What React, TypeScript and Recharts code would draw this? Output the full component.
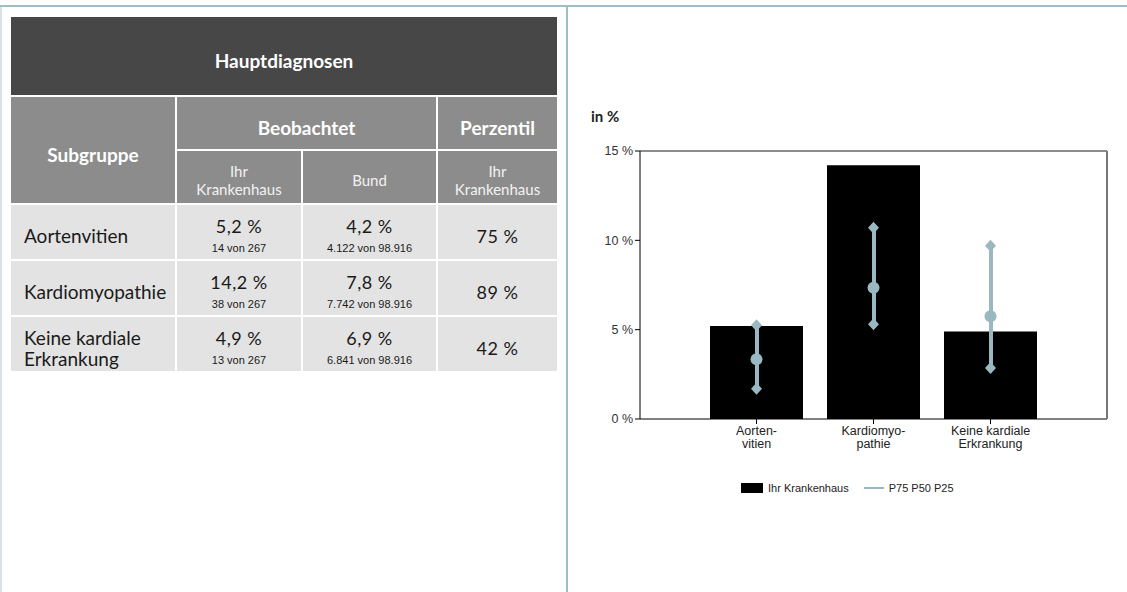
import {
  Bar,
  ComposedChart,
  Line,
  XAxis,
  YAxis,
} from 'recharts'

const categories = ['Aortenvitien', 'Kardiomyopathie', 'Keine kardiale Erkrankung']
const tickLines = [['Aorten-', 'vitien'], ['Kardiomyo-', 'pathie'], ['Keine kardiale', 'Erkrankung']]
const rowLabels = [['Aortenvitien'], ['Kardiomyopathie'], ['Keine kardiale', 'Erkrankung']]
const hospital = [5.2, 14.2, 4.9]
const hospitalCounts = ['14 von 267', '38 von 267', '13 von 267']
const bund = [4.2, 7.8, 6.9]
const bundCounts = ['4.122 von 98.916', '7.742 von 98.916', '6.841 von 98.916']
const perzentil = [75, 89, 42]
const p25 = [1.7, 5.3, 2.85]
const p50 = [3.35, 7.35, 5.75]
const p75 = [5.25, 10.7, 9.7]
const yTicks = [0, 5, 10, 15]

const PCT = '#9ab8c1'
const SEP = '#9dbdc8'
const TFONT = 'Lato, "Noto Sans", sans-serif'
const CFONT = '"Liberation Sans", Arial, sans-serif'

const chartData = categories.map((name, i) => ({
  name,
  hospital: hospital[i],
  p25: p25[i],
  p50: p50[i],
  p75: p75[i],
  range: [p25[i], p75[i]],
}))

const fmt = (v: number) => v.toFixed(1).replace('.', ',') + ' %'

function Diamond(props: any) {
  const { cx, cy, index } = props
  if (cx == null || cy == null) return null
  return (
    <path
      key={'d' + index + cy}
      d={`M${cx},${cy - 6}L${cx + 5.5},${cy}L${cx},${cy + 6}L${cx - 5.5},${cy}Z`}
      fill={PCT}
    />
  )
}

function Dot(props: any) {
  const { cx, cy, index } = props
  if (cx == null || cy == null) return null
  return <circle key={'c' + index} cx={cx} cy={cy} r={6} fill={PCT} />
}

function CatTick(props: any) {
  const { x, y, index } = props
  const lines = tickLines[index] || []
  return (
    <text x={x} y={y} textAnchor="middle" fontSize={12.5} fill="#222" fontFamily={CFONT}>
      {lines.map((l, i) => (
        <tspan key={i} x={x} dy={i === 0 ? '0.75em' : 13}>
          {l}
        </tspan>
      ))}
    </text>
  )
}

const cell = (bg: string, extra: React.CSSProperties = {}): React.CSSProperties => ({
  background: bg,
  display: 'flex',
  flexDirection: 'column',
  alignItems: 'center',
  justifyContent: 'center',
  textAlign: 'center',
  boxSizing: 'border-box',
  ...extra,
})

function Table() {
  const head = { color: '#fff', fontWeight: 700, fontSize: 19, paddingTop: 8 }
  const sub = { color: '#f2f2f2', fontWeight: 400, fontSize: 15, lineHeight: '18px', paddingTop: 6 }
  const body = { color: '#1a1a1a', paddingTop: 7 }
  return (
    <div
      style={{
        position: 'absolute',
        left: 11,
        top: 17,
        display: 'grid',
        gridTemplateColumns: '164px 124px 133px 119px',
        gridTemplateRows: '78px 52px 52px 54px 54px 54px',
        gap: 2,
        fontFamily: TFONT,
      }}
    >
      <div style={{ ...cell('#474747'), ...head, gridColumn: '1 / 5' }}>Hauptdiagnosen</div>
      <div style={{ ...cell('#8c8c8c'), ...head, gridRow: '2 / 4' }}>Subgruppe</div>
      <div style={{ ...cell('#8c8c8c'), ...head, gridColumn: '2 / 4' }}>Beobachtet</div>
      <div style={{ ...cell('#8c8c8c'), ...head }}>Perzentil</div>
      <div style={{ ...cell('#8c8c8c'), ...sub }}>
        <span>Ihr</span>
        <span>Krankenhaus</span>
      </div>
      <div style={{ ...cell('#8c8c8c'), ...sub }}>Bund</div>
      <div style={{ ...cell('#8c8c8c'), ...sub }}>
        <span>Ihr</span>
        <span>Krankenhaus</span>
      </div>
      {categories.map((c, i) => [
        <div
          key={c + 'a'}
          style={{
            ...cell('#e3e3e3', { alignItems: 'flex-start', textAlign: 'left', paddingLeft: 13 }),
            ...body,
            fontSize: 19,
            lineHeight: '21px',
          }}
        >
          {rowLabels[i].map((l) => (
            <span key={l}>{l}</span>
          ))}
        </div>,
        <div key={c + 'b'} style={{ ...cell('#e3e3e3'), ...body, paddingTop: 5 }}>
          <span style={{ fontSize: 18, lineHeight: '26px', letterSpacing: 0.5 }}>{fmt(hospital[i])}</span>
          <span style={{ fontSize: 11, fontFamily: CFONT, lineHeight: '18px' }}>{hospitalCounts[i]}</span>
        </div>,
        <div key={c + 'c'} style={{ ...cell('#e3e3e3'), ...body, paddingTop: 5 }}>
          <span style={{ fontSize: 18, lineHeight: '26px', letterSpacing: 0.5 }}>{fmt(bund[i])}</span>
          <span style={{ fontSize: 11, fontFamily: CFONT, lineHeight: '18px' }}>{bundCounts[i]}</span>
        </div>,
        <div key={c + 'd'} style={{ ...cell('#e3e3e3'), ...body, fontSize: 18, letterSpacing: 0.5 }}>
          {perzentil[i]} %
        </div>,
      ])}
    </div>
  )
}

export default function App() {
  return (
    <div
      style={{
        position: 'absolute',
        left: 0,
        top: 0,
        width: 1127,
        height: 592,
        background: '#fff',
        overflow: 'hidden',
      }}
    >
      <div style={{ position: 'absolute', left: 0, top: 5, width: 1127, height: 2, background: SEP }} />
      <div style={{ position: 'absolute', left: 0, top: 7, width: 2, height: 585, background: '#d3e3e8' }} />
      <div style={{ position: 'absolute', left: 566, top: 7, width: 2, height: 585, background: SEP }} />

      <Table />

      <div
        style={{
          position: 'absolute',
          left: 591,
          top: 107,
          fontFamily: TFONT,
          fontWeight: 700,
          fontSize: 15,
          color: '#222',
        }}
      >
        in %
      </div>

      <div style={{ position: 'absolute', left: 570, top: 100 }}>
        <ComposedChart
          width={557}
          height={420}
          data={chartData}
          margin={{ top: 50, right: 19, bottom: 71, left: 0 }}
        >
          <XAxis
            dataKey="name"
            interval={0}
            padding={{ left: 58, right: 58 }}
            stroke="#000"
            tickSize={5}
            tick={<CatTick />}
            height={30}
          />
          <XAxis
            xAxisId="top"
            dataKey="name"
            orientation="top"
            padding={{ left: 58, right: 58 }}
            stroke="#666"
            strokeWidth={1.5}
            tick={false}
            tickLine={false}
            height={1}
          />
          <YAxis
            domain={[0, 15]}
            ticks={yTicks}
            width={70}
            tickSize={5}
            stroke="#000"
            tickFormatter={(v) => `${v} %`}
            tick={{ fontSize: 12.5, fill: '#333', fontFamily: CFONT }}
          />
          <YAxis
            yAxisId="r"
            orientation="right"
            domain={[0, 15]}
            width={1}
            tick={false}
            tickLine={false}
            stroke="#777"
            strokeWidth={2}
          />
          <Bar dataKey="hospital" fill="#000" barSize={93} isAnimationActive={false} />
          <Bar xAxisId="top" dataKey="range" fill={PCT} barSize={4} isAnimationActive={false} />
          <Line
            xAxisId="top"
            dataKey="p75"
            stroke="none"
            dot={<Diamond />}
            activeDot={false}
            isAnimationActive={false}
          />
          <Line
            xAxisId="top"
            dataKey="p25"
            stroke="none"
            dot={<Diamond />}
            activeDot={false}
            isAnimationActive={false}
          />
          <Line
            xAxisId="top"
            dataKey="p50"
            stroke="none"
            dot={<Dot />}
            activeDot={false}
            isAnimationActive={false}
          />
        </ComposedChart>
      </div>

      <div
        style={{
          position: 'absolute',
          left: 741,
          top: 482,
          display: 'flex',
          alignItems: 'center',
          fontFamily: CFONT,
          fontSize: 11,
          color: '#222',
        }}
      >
        <span style={{ width: 22, height: 10, background: '#000', marginRight: 5 }} />
        <span>Ihr Krankenhaus</span>
        <span style={{ width: 20, height: 2, background: PCT, marginLeft: 15, marginRight: 5 }} />
        <span>P75 P50 P25</span>
      </div>
    </div>
  )
}
